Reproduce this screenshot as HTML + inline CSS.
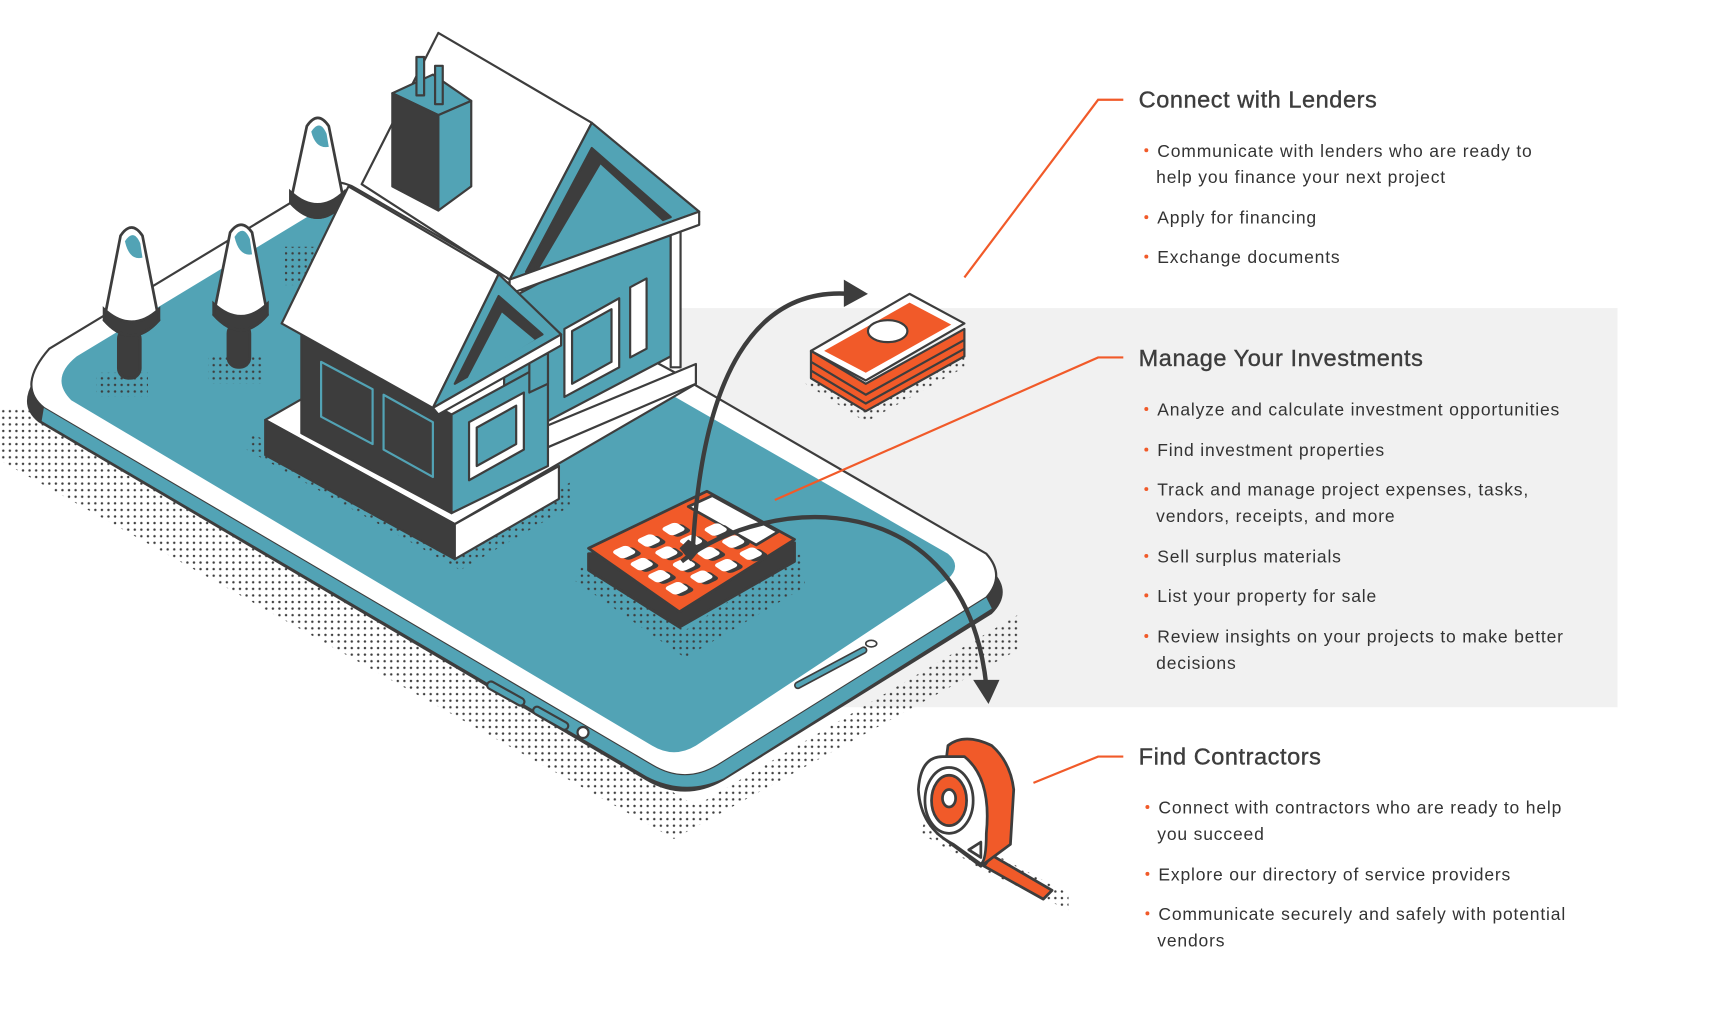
<!DOCTYPE html>
<html><head><meta charset="utf-8"><style>
html,body{margin:0;padding:0;background:#fff;}
svg{display:block;}
.t{font-family:"Liberation Sans",sans-serif;font-size:21.5px;fill:#3d3d3d;stroke:#3d3d3d;stroke-width:0.35;letter-spacing:0.5px}
.b{font-family:"Liberation Sans",sans-serif;font-size:16px;fill:#333;letter-spacing:0.75px}
.d{fill:#f15a29}
</style></head><body>
<svg width="1714" height="1034" viewBox="0 0 1564 943" preserveAspectRatio="none" xmlns="http://www.w3.org/2000/svg">
<defs>
<pattern id="dots" width="6" height="6" patternUnits="userSpaceOnUse"><circle cx="3" cy="3" r="1.1" fill="#3d3d3d"/></pattern>
</defs>
<rect x="620" y="281" width="856" height="364" fill="#f1f1f1"/>

<polygon points="0,372 30,372 635,735 930,560 930,592 615,765 0,420" fill="url(#dots)"/>
<path d="M45,330 L285,185 Q305,172 325,184 L905,520 Q925,540 905,560 L660,712 Q625,732 590,712 L35,385 Q10,365 45,330 Z" fill="#3d3d3d"/>
<path d="M45,318 L285,173 Q305,160 325,172 L900,505 Q918,525 900,545 L655,698 Q625,716 595,698 L40,372 Q15,352 45,318 Z" fill="#fff" stroke="#3d3d3d" stroke-width="2"/>
<path d="M40,372 L595,698 Q625,716 655,698 L900,545 L905,555 L660,710 Q625,726 590,708 L38,384 Z" fill="#52a3b5"/>
<path d="M70,325 L290,192 Q305,184 320,192 L865,505 Q878,516 865,528 L635,680 Q615,692 595,680 L65,365 Q45,345 70,325 Z" fill="#52a3b5"/>
<path d="M728,625 L788,593" stroke="#3d3d3d" stroke-width="7" stroke-linecap="round"/>
<path d="M728,625 L788,593" stroke="#52a3b5" stroke-width="4" stroke-linecap="round"/>
<ellipse cx="795" cy="587" rx="5" ry="3" fill="#fff" stroke="#3d3d3d" stroke-width="1.5"/>
<path d="M448,625 L475,640 M490,648 L515,662" stroke="#3d3d3d" stroke-width="9" stroke-linecap="round"/>
<path d="M448,625 L475,640 M490,648 L515,662" stroke="#52a3b5" stroke-width="5" stroke-linecap="round"/>
<circle cx="532" cy="668" r="5" fill="#fff" stroke="#3d3d3d" stroke-width="2"/>

<polygon points="88,340 135,340 135,362 88,362" fill="url(#dots)"/>
<polygon points="190,325 240,325 240,350 190,350" fill="url(#dots)"/>
<polygon points="260,225 290,225 290,260 260,260" fill="url(#dots)"/>
<polygon points="225,410 420,520 520,462 520,440 415,500 230,395" fill="url(#dots)"/>
<polygon points="525,530 625,600 735,535 730,505 625,575 530,515" fill="url(#dots)"/>
<polygon points="735,350 790,385 880,335 880,320 790,372 740,342" fill="url(#dots)"/>

<g stroke="#3d3d3d" stroke-width="2.5">
<rect x="108" y="300" width="20" height="45" rx="9" fill="#3d3d3d"/>
<path d="M95,292 L110,215 Q120,200 130,215 L145,292 Q120,320 95,292 Z" fill="#fff"/>
<path d="M95,292 Q120,320 145,292 L145,282 Q120,305 95,282 Z" fill="#3d3d3d"/>
<path d="M114,220 Q122,208 128,222 L130,235 Q118,238 114,220 Z" fill="#52a3b5" stroke="none"/>
<rect x="208" y="295" width="20" height="40" rx="9" fill="#3d3d3d"/>
<path d="M195,287 L210,212 Q220,198 230,212 L244,287 Q220,315 195,287 Z" fill="#fff"/>
<path d="M195,287 Q220,315 244,287 L244,277 Q220,300 195,277 Z" fill="#3d3d3d"/>
<path d="M214,216 Q222,204 228,218 L230,232 Q218,234 214,216 Z" fill="#52a3b5" stroke="none"/>
<path d="M265,185 L280,115 Q290,100 300,115 L314,185 Q290,212 265,185 Z" fill="#fff"/>
<path d="M265,185 Q290,212 314,185 L314,175 Q290,198 265,175 Z" fill="#3d3d3d"/>
<path d="M284,120 Q292,108 298,122 L300,134 Q288,136 284,120 Z" fill="#52a3b5" stroke="none"/>
</g>

<g stroke="#3d3d3d" stroke-width="2" stroke-linejoin="round">
<polygon points="242,383 415,478 635,350 462,257" fill="#fff"/>
<polygon points="242,383 415,478 415,510 242,415" fill="#3d3d3d"/>
<polygon points="415,478 510,425 510,455 415,510" fill="#fff"/>
<polygon points="495,390 635,332 635,350 495,410" fill="#fff"/>
<polygon points="460,275 612,195 612,325 460,405" fill="#52a3b5"/>
<rect x="612" y="205" width="9" height="130" fill="#fff"/>
<polygon points="515,300 565,272 565,335 515,362" fill="#fff"/>
<polygon points="522,302 558,282 558,330 522,350" fill="#52a3b5"/>
<polygon points="575,262 590,254 590,318 575,326" fill="#fff"/>
<polygon points="330,168 400,30 540,112 465,255" fill="#fff"/>
<polygon points="540,112 465,255 638,193" fill="#52a3b5"/>
<polygon points="540,135 480,248 612,198" fill="#3d3d3d"/>
<polygon points="548,150 492,245 605,202" fill="#52a3b5" stroke="none"/>
<polygon points="465,255 638,193 638,205 465,268" fill="#fff"/>
<polygon points="358,85 395,68 430,92 400,105" fill="#52a3b5"/>
<polygon points="358,85 400,105 400,192 358,170" fill="#3d3d3d"/>
<polygon points="400,105 430,92 430,170 400,192" fill="#52a3b5"/>
<rect x="380" y="52" width="7" height="35" fill="#52a3b5"/>
<rect x="397" y="60" width="7" height="35" fill="#52a3b5"/>
<polygon points="275,305 412,378 412,468 275,395" fill="#3d3d3d"/>
<polygon points="293,330 340,355 340,405 293,380" fill="none" stroke="#52a3b5"/>
<polygon points="350,360 395,385 395,435 350,410" fill="none" stroke="#52a3b5"/>
<polygon points="412,378 500,330 500,425 412,468" fill="#52a3b5"/>
<polygon points="428,385 478,358 478,410 428,438" fill="#fff"/>
<polygon points="435,390 471,370 471,405 435,425" fill="#52a3b5"/>
<polygon points="483,330 500,322 500,350 483,358" fill="#52a3b5"/>
<polygon points="257,295 318,170 455,250 395,372" fill="#fff"/>
<polygon points="455,250 395,372 512,305" fill="#52a3b5"/>
<polygon points="455,270 415,350 495,305" fill="#3d3d3d"/>
<polygon points="458,285 425,348 488,310" fill="#52a3b5" stroke="none"/>
<polygon points="395,372 512,305 512,315 400,378" fill="#fff"/>
</g>

<g stroke="#3d3d3d" stroke-width="2" stroke-linejoin="round">
<path d="M740,345 L790,375 L880,325 L880,300 L790,350 L740,320 Z" fill="#f15a29"/>
<path d="M740,330 L790,360 L880,310 M740,338 L790,368 L880,318" fill="none"/>
<polygon points="740,320 830,268 880,295 790,347" fill="#fff"/>
<polygon points="752,320 830,276 868,296 790,340" fill="#f15a29" stroke="none"/>
<ellipse cx="810" cy="302" rx="18" ry="10" fill="#fff"/>
</g>

<g stroke="#3d3d3d" stroke-width="2.5" stroke-linejoin="round">
<path d="M537,505 L537,520 L620,572 L725,512 L725,495 Z" fill="#3d3d3d"/>
<polygon points="537,500 645,448 725,492 620,558" fill="#f15a29"/>
<polygon points="628,462 650,452 710,485 690,497" fill="#fff"/>
</g>
<g transform="matrix(90,-42,64,44,550,503)" stroke="none">
<g fill="#3d3d3d" transform="translate(0.02,0.05)">
<rect x="0.05" y="0.05" width="0.15" height="0.16" rx="0.04"/><rect x="0.3" y="0.05" width="0.15" height="0.16" rx="0.04"/><rect x="0.55" y="0.05" width="0.15" height="0.16" rx="0.04"/>
<rect x="0.05" y="0.3" width="0.15" height="0.16" rx="0.04"/><rect x="0.3" y="0.3" width="0.15" height="0.16" rx="0.04"/><rect x="0.55" y="0.3" width="0.15" height="0.16" rx="0.04"/><rect x="0.8" y="0.3" width="0.15" height="0.16" rx="0.04"/>
<rect x="0.05" y="0.55" width="0.15" height="0.16" rx="0.04"/><rect x="0.3" y="0.55" width="0.15" height="0.16" rx="0.04"/><rect x="0.55" y="0.55" width="0.15" height="0.16" rx="0.04"/><rect x="0.8" y="0.55" width="0.15" height="0.16" rx="0.04"/>
<rect x="0.05" y="0.8" width="0.15" height="0.16" rx="0.04"/><rect x="0.3" y="0.8" width="0.15" height="0.16" rx="0.04"/><rect x="0.55" y="0.8" width="0.15" height="0.16" rx="0.04"/><rect x="0.8" y="0.8" width="0.15" height="0.16" rx="0.04"/>
</g>
<g fill="#fff">
<rect x="0.05" y="0.05" width="0.15" height="0.16" rx="0.04"/><rect x="0.3" y="0.05" width="0.15" height="0.16" rx="0.04"/><rect x="0.55" y="0.05" width="0.15" height="0.16" rx="0.04"/>
<rect x="0.05" y="0.3" width="0.15" height="0.16" rx="0.04"/><rect x="0.3" y="0.3" width="0.15" height="0.16" rx="0.04"/><rect x="0.55" y="0.3" width="0.15" height="0.16" rx="0.04"/><rect x="0.8" y="0.3" width="0.15" height="0.16" rx="0.04"/>
<rect x="0.05" y="0.55" width="0.15" height="0.16" rx="0.04"/><rect x="0.3" y="0.55" width="0.15" height="0.16" rx="0.04"/><rect x="0.55" y="0.55" width="0.15" height="0.16" rx="0.04"/><rect x="0.8" y="0.55" width="0.15" height="0.16" rx="0.04"/>
<rect x="0.05" y="0.8" width="0.15" height="0.16" rx="0.04"/><rect x="0.3" y="0.8" width="0.15" height="0.16" rx="0.04"/><rect x="0.55" y="0.8" width="0.15" height="0.16" rx="0.04"/><rect x="0.8" y="0.8" width="0.15" height="0.16" rx="0.04"/>
</g>
</g>

<polygon points="840,760 900,795 975,830 975,815 900,775 845,745" fill="url(#dots)"/>
<g stroke="#3d3d3d" stroke-width="2.5" stroke-linejoin="round">
<path d="M905,780 L960,812 L952,820 L898,790 Z" fill="#f15a29"/>
<path d="M865,680 Q880,668 905,680 Q922,695 925,720 L922,770 L895,790 L855,760 Z" fill="#f15a29"/>
<path d="M860,690 Q840,690 838,720 Q840,755 870,770 L895,788 Q900,785 900,760 Q905,710 880,690 Z" fill="#fff"/>
<ellipse cx="866" cy="730" rx="22" ry="30" fill="none"/>
<ellipse cx="866" cy="730" rx="16" ry="23" fill="#f15a29"/>
<ellipse cx="866" cy="728" rx="6" ry="8" fill="#fff"/>
<path d="M884,775 L895,768 L895,782 Z" fill="#fff"/>
</g>

<g fill="none" stroke="#3d3d3d" stroke-width="4">
<path d="M632,505 C640,340 690,262 775,268"/>
<path d="M622,512 C700,450 880,440 900,625"/>
</g>
<polygon points="628,492 640,500 630,512 620,500" fill="#3d3d3d"/>
<polygon points="770,255 792,268 770,280" fill="#3d3d3d"/>
<polygon points="888,620 912,620 902,642" fill="#3d3d3d"/>

<g fill="none" stroke="#f15a29" stroke-width="2">
<polyline points="880,253 1002,91 1025,91"/>
<polyline points="707,456 1002,326 1025,326"/>
<polyline points="943,714 1002,690 1025,690"/>
</g>

<text class="t" x="1039" y="98">Connect with Lenders</text>
<text class="t" x="1039" y="334">Manage Your Investments</text>
<text class="t" x="1039" y="697">Find Contractors</text>
<g class="b">
<text x="1056" y="143">Communicate with lenders who are ready to</text>
<text x="1055" y="167">help you finance your next project</text>
<text x="1056" y="204">Apply for financing</text>
<text x="1056" y="240">Exchange documents</text>
<text x="1056" y="379">Analyze and calculate investment opportunities</text>
<text x="1056" y="416">Find investment properties</text>
<text x="1056" y="452">Track and manage project expenses, tasks,</text>
<text x="1055" y="476">vendors, receipts, and more</text>
<text x="1056" y="513">Sell surplus materials</text>
<text x="1056" y="549">List your property for sale</text>
<text x="1056" y="586">Review insights on your projects to make better</text>
<text x="1055" y="610">decisions</text>
<text x="1057" y="742">Connect with contractors who are ready to help</text>
<text x="1056" y="766">you succeed</text>
<text x="1057" y="803">Explore our directory of service providers</text>
<text x="1057" y="839">Communicate securely and safely with potential</text>
<text x="1056" y="863">vendors</text>
</g>
<g class="d">
<circle cx="1046" cy="137" r="1.8"/><circle cx="1046" cy="198" r="1.8"/><circle cx="1046" cy="234" r="1.8"/>
<circle cx="1046" cy="373" r="1.8"/><circle cx="1046" cy="410" r="1.8"/><circle cx="1046" cy="446" r="1.8"/><circle cx="1046" cy="507" r="1.8"/><circle cx="1046" cy="543" r="1.8"/><circle cx="1046" cy="580" r="1.8"/>
<circle cx="1047" cy="736" r="1.8"/><circle cx="1047" cy="797" r="1.8"/><circle cx="1047" cy="833" r="1.8"/>
</g>
</svg>
</body></html>
